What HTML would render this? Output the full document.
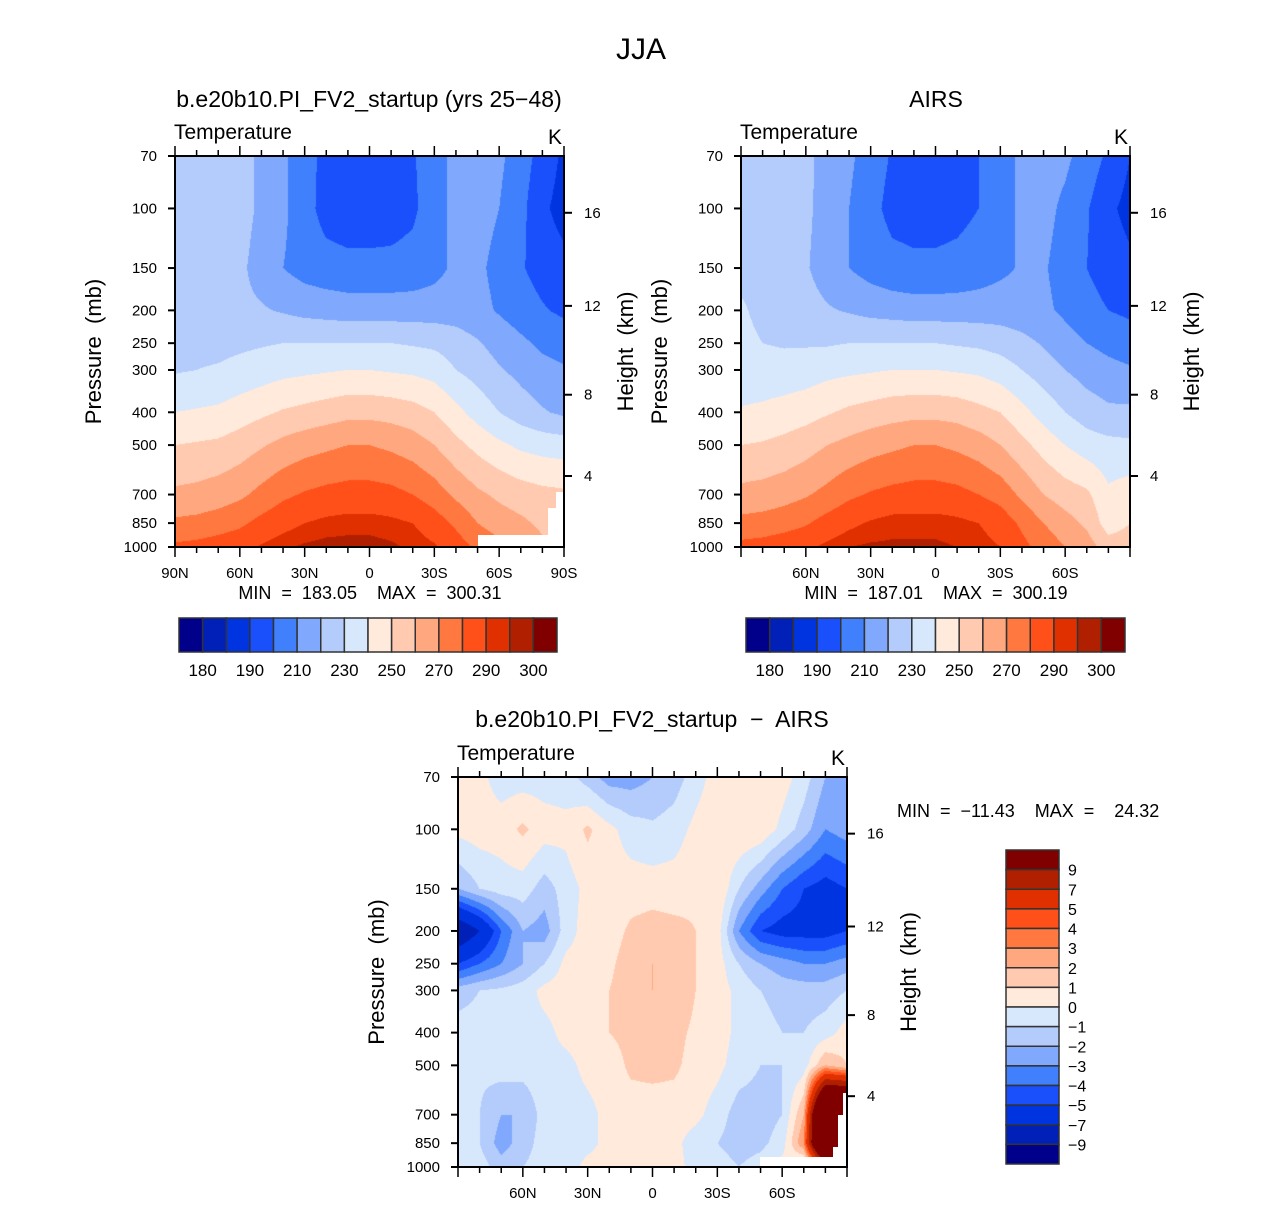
<!DOCTYPE html>
<html><head><meta charset="utf-8"><style>
body{margin:0;background:#fff;}
#root{position:relative;width:1285px;height:1206px;font-family:"Liberation Sans",sans-serif;}
canvas{position:absolute;}
svg{position:absolute;left:0;top:0;}
text{white-space:pre;}
</style></head><body>
<div id="root">
<canvas id="c1" width="389" height="391" style="left:175px;top:156px"></canvas>
<canvas id="c2" width="389" height="391" style="left:741px;top:156px"></canvas>
<canvas id="c3" width="389" height="390" style="left:458px;top:777px"></canvas>
<svg id="ov" width="1285" height="1206"></svg>
</div>
<script>
const lats=[90,80,70,60,50,40,30,20,10,0,-10,-20,-30,-40,-50,-60,-70,-80,-90];
const pressures=[70,100,150,200,250,300,400,500,700,850,1000];
const tempLevels=[180,185,190,200,210,220,230,240,250,260,270,280,290,295,300];
const diffLevels=[-9,-7,-5,-4,-3,-2,-1,0,1,2,3,4,5,7,9];
const palette=["#00008a","#0020b8","#0034e0","#1a50fc","#4080fc","#80a8fc","#b4ccfc","#d8e8fc","#ffeadc","#ffcab0","#ffa880","#ff7840","#ff501a","#e03000","#b02000","#800000"];
const tempBarLabels=["180","190","210","230","250","270","290","300"];
const diffBarLabels=["9","7","5","4","3","2","1","0","−1","−2","−3","−4","−5","−7","−9"];
const pTicks=[70,100,150,200,250,300,400,500,700,850,1000];
const hTickKm=[4,8,12,16];
const hTickP=[617,355,194,103];
const modelT=[
[226,226,226,224,218,212,204,197,195,195,196,199,206,213,215,212,205,196,188],
[226,226,226,224,218,212,204,196,194,194,195,198,206,213,214,210,203,192,186],
[226,226,225,222,216,210,206,204,203,203,203,204,207,212,212,207,201,196,193],
[225,225,224,222,221,219,217,216,215,215,215,215,215,215,213,209,205,201,198],
[226,227,227,228,229,230,230,230,230,230,230,229,228,225,221,216,212,208,206],
[229,230,231,233,235,237,238,239,240,240,239,238,236,230,226,221,217,213,211],
[240,241,242,245,248,251,253,255,257,257,256,254,250,243,236,230,225,221,218],
[250,251,252,255,259,263,266,268,270,270,268,265,260,253,247,242,238,236,235],
[262,263,265,268,273,278,281,283,284,284,283,280,275,268,262,258,255,253,252],
[272,273,275,278,283,287,290,292,293,293,292,290,285,278,270,265,262,258,256],
[282,283,285,287,291,294,296,297,297,297,296,294,291,285,278,273,268,262,258]];
const airsT=[
[226,226,225,222,217,212,205,199,197,197,198,200,206,212,214,212,206,198,190],
[226,226,225,222,216,210,203,197,196,196,197,200,206,212,213,208,201,192,187],
[228,227,225,221,215,210,206,203,202,202,203,205,208,211,211,206,200,195,192],
[231,228,226,224,221,219,217,216,215,215,215,215,215,214,212,208,204,200,198],
[232,230,229,229,229,230,230,230,230,230,229,228,226,223,219,214,210,207,205],
[234,234,234,235,237,238,239,240,240,240,239,238,235,230,225,220,216,213,211],
[241,242,244,246,249,252,254,256,257,257,256,253,250,243,236,230,225,222,222],
[250,251,253,256,260,263,266,268,270,270,268,265,260,253,246,240,235,233,232],
[263,264,266,269,273,278,281,283,284,284,283,280,276,268,260,255,252,242,245],
[273,274,276,279,284,288,291,293,293,293,292,290,286,278,270,264,258,245,250],
[283,284,286,288,292,295,296,296,296,296,295,293,290,283,276,270,265,255,255]];
const diffT=[
[0.5,0.3,-0.5,-0.5,-0.5,-0.5,-1.5,-2.5,-2.5,-2,-1.5,-0.5,0.5,0.8,0.8,0.5,-0.5,-2,-2],
[0.3,0.5,0.5,1.2,0.5,0.3,1.2,0.3,-0.5,-0.8,-0.5,0.3,0.8,1,0.8,-0.3,-1.5,-3,-2.5],
[-2,-1,-0.5,-0.5,-1.5,-0.5,0.3,0.5,0.5,0.5,0.5,0.8,1,-1,-2.5,-4,-5,-5.5,-5],
[-9,-7,-4,-2,-2.5,-0.5,0.5,0.5,1.2,1.5,1.3,1,0.5,-3,-5,-5.5,-5.5,-5.5,-5],
[-5,-4,-3,-2,-1,0.3,0.5,0.8,1.5,2,1.7,1,0.5,-1,-2,-2.5,-3,-3,-2.5],
[-1.5,-1,-0.8,-0.5,0.3,0.5,0.5,1,1.5,2,1.8,1,0.5,-0.3,-1,-1.5,-1.5,-1.5,-1],
[-0.5,-0.5,-0.3,-0.3,-0.3,0.3,0.5,1,1.3,1.5,1.3,0.8,0.5,-0.3,-0.5,-1,-1,-0.5,0.5],
[-0.5,-0.8,-0.5,-0.5,-0.3,-0.3,0.3,0.5,1.2,1.3,1.2,0.6,0.3,-0.5,-1,-1,-0.5,2,1],
[-0.5,-1,-2,-2,-0.5,-0.5,-0.3,0.3,0.5,0.5,0.5,0.3,-0.5,-1.5,-1.5,-1,2,20,20],
[-0.5,-1,-2.5,-1.5,-0.5,-0.5,-0.3,0.3,0.3,0.5,0.3,-0.5,-1,-1.5,-1.3,-0.5,3,20,20],
[-0.5,-0.5,-1.5,-1,-0.5,-0.5,0.3,0.5,0.3,0.5,0.3,-0.3,-0.5,-1,-0.5,0.5,-1,5,5]];

const NS="http://www.w3.org/2000/svg";
const ov=document.getElementById('ov');
const LNR=Math.log(1000/70);
function yOf(p,P){return P.y+P.h*Math.log(p/70)/LNR;}
function xOf(lat,P){return P.x+P.w*(90-lat)/180;}
function hex(c){return [parseInt(c.substr(1,2),16),parseInt(c.substr(3,2),16),parseInt(c.substr(5,2),16)];}
const rgb=palette.map(hex);
const lnP=pressures.map(p=>Math.log(p));
function render(id,grid,levels){
  const cv=document.getElementById(id),ctx=cv.getContext('2d');
  const W=cv.width,H=cv.height,img=ctx.createImageData(W,H);
  for(let py=0;py<H;py++){
    const lp=Math.log(70)+(py+0.5)/H*LNR;
    let r=0;while(r<pressures.length-2&&lp>lnP[r+1])r++;
    const fy=Math.min(1,Math.max(0,(lp-lnP[r])/(lnP[r+1]-lnP[r])));
    for(let px=0;px<W;px++){
      const gx=(px+0.5)/W*(lats.length-1);
      const c=Math.min(lats.length-2,Math.floor(gx)),fx=gx-c;
      const v=(grid[r][c]*(1-fx)+grid[r][c+1]*fx)*(1-fy)+(grid[r+1][c]*(1-fx)+grid[r+1][c+1]*fx)*fy;
      let k=0;while(k<levels.length&&v>=levels[k])k++;
      const col=rgb[k],i=(py*W+px)*4;
      img.data[i]=col[0];img.data[i+1]=col[1];img.data[i+2]=col[2];img.data[i+3]=255;
    }
  }
  ctx.putImageData(img,0,0);
}
render('c1',modelT,tempLevels);
render('c2',airsT,tempLevels);
render('c3',diffT,diffLevels);

function el(tag,attrs,parent){const e=document.createElementNS(NS,tag);for(const k in attrs)e.setAttribute(k,attrs[k]);(parent||ov).appendChild(e);return e;}
function txt(s,x,y,size,anchor,name,extra){
  const t=el('text',Object.assign({x:x,y:y,'font-size':size,'text-anchor':anchor||'start',fill:'#000','font-family':'Liberation Sans, sans-serif'},extra||{}));
  t.textContent=s;
  
  
  return t;
}
function line(x1,y1,x2,y2,w,name){
  const l=el('line',{x1:x1,y1:y1,x2:x2,y2:y2,stroke:'#000','stroke-width':w||1.5});
  
  
}
function panel(P,xLabels,pre){
  const f=el('rect',{x:P.x,y:P.y,width:P.w,height:P.h,fill:'none',stroke:'#000','stroke-width':2});
  
  
  for(const p of pTicks){
    const y=yOf(p,P);
    line(P.x-7,y,P.x,y,2,pre+'-y-tick');
    txt(String(p),P.x-18,y+5,15,'end',pre+'-y-tick-label');
  }
  for(let lat=90;lat>=-90;lat-=10){
    const x=xOf(lat,P),major=lat%30===0;
    line(x,P.y+P.h,x,P.y+P.h+(major?10:6),1.5,pre+'-x-tick');
    line(x,P.y,x,P.y-(major?10:6),1.5,pre+'-top-tick');
  }
  for(const lab of xLabels){
    const v=lab==='0'?0:parseInt(lab)*(lab.endsWith('S')?-1:1);
    txt(lab,xOf(v,P),P.y+P.h+31,15,'middle',pre+'-x-tick-label');
  }
  for(let i=0;i<hTickKm.length;i++){
    const y=yOf(hTickP[i],P);
    line(P.x+P.w,y,P.x+P.w+8,y,2,pre+'-height-tick');
    txt(String(hTickKm[i]),P.x+P.w+20,y+5,15,'start',pre+'-height-tick-label');
  }
  txt('Pressure  (mb)',0,0,22,'middle',pre+'-y-axis-title',{transform:`translate(${P.x-74},${P.y+P.h/2}) rotate(-90)`});
  txt('Height  (km)',0,0,22,'middle',pre+'-height-axis-title',{transform:`translate(${P.x+P.w+69},${P.y+P.h/2}) rotate(-90)`});
  txt('Temperature',P.x-1,P.y-17,21,'start',pre+'-variable-label');
  txt('K',P.x+P.w-2,P.y-12,21,'end',pre+'-units-label');
}
const P1={x:175,y:156,w:389,h:391},P2={x:741,y:156,w:389,h:391},P3={x:458,y:777,w:389,h:390};
function mask(x,y,w,h){const r=el('rect',{x:x,y:y,width:w,height:h,fill:'#fff'});}
mask(478,535,70,12);mask(548,508,8,39);mask(556,492,8,55);
mask(760,1157,73,10);mask(833,1147,14,20);mask(843,1093,4,74);mask(838,1115,9,52);
panel(P1,['90N','60N','30N','0','30S','60S','90S'],'model');
panel(P2,['60N','30N','0','30S','60S'],'airs');
panel(P3,['60N','30N','0','30S','60S'],'diff');
txt('JJA',641,59,30,'middle','figure-title');
txt('b.e20b10.PI_FV2_startup (yrs 25−48)',369,107,23,'middle','model-panel-title');
txt('AIRS',936,107,23,'middle','airs-panel-title');
txt('b.e20b10.PI_FV2_startup  −  AIRS',652,727,23,'middle','diff-panel-title');
txt('MIN  =  183.05    MAX  =  300.31',370,599,18,'middle','model-min-max');
txt('MIN  =  187.01    MAX  =  300.19',936,599,18,'middle','airs-min-max');
txt('MIN  =  −11.43    MAX  =    24.32',897,817,18,'start','diff-min-max');
function hbar(x0,y0,w,h,pre){
  const bw=w/palette.length;
  palette.forEach((c,i)=>{
    const r=el('rect',{x:x0+i*bw,y:y0,width:bw,height:h,fill:c,stroke:'#333','stroke-width':1.5});
    
    
  });
  tempBarLabels.forEach((s,i)=>txt(s,x0+(1+2*i)*bw,y0+h+24,17,'middle',pre+'-colorbar-label'));
}
hbar(179,618,378,34,'model');
hbar(746,618,379,34,'airs');
(function(){
  const x0=1006,y0=850,w=53,h=314,bh=h/palette.length;
  for(let i=0;i<palette.length;i++){
    const r=el('rect',{x:x0,y:y0+i*bh,width:w,height:bh,fill:palette[palette.length-1-i],stroke:'#333','stroke-width':1.5});
    
    
  }
  diffBarLabels.forEach((s,i)=>txt(s,x0+w+9,y0+(i+1)*bh+6,16,'start','diff-colorbar-label'));
})();
</script>
</body></html>
